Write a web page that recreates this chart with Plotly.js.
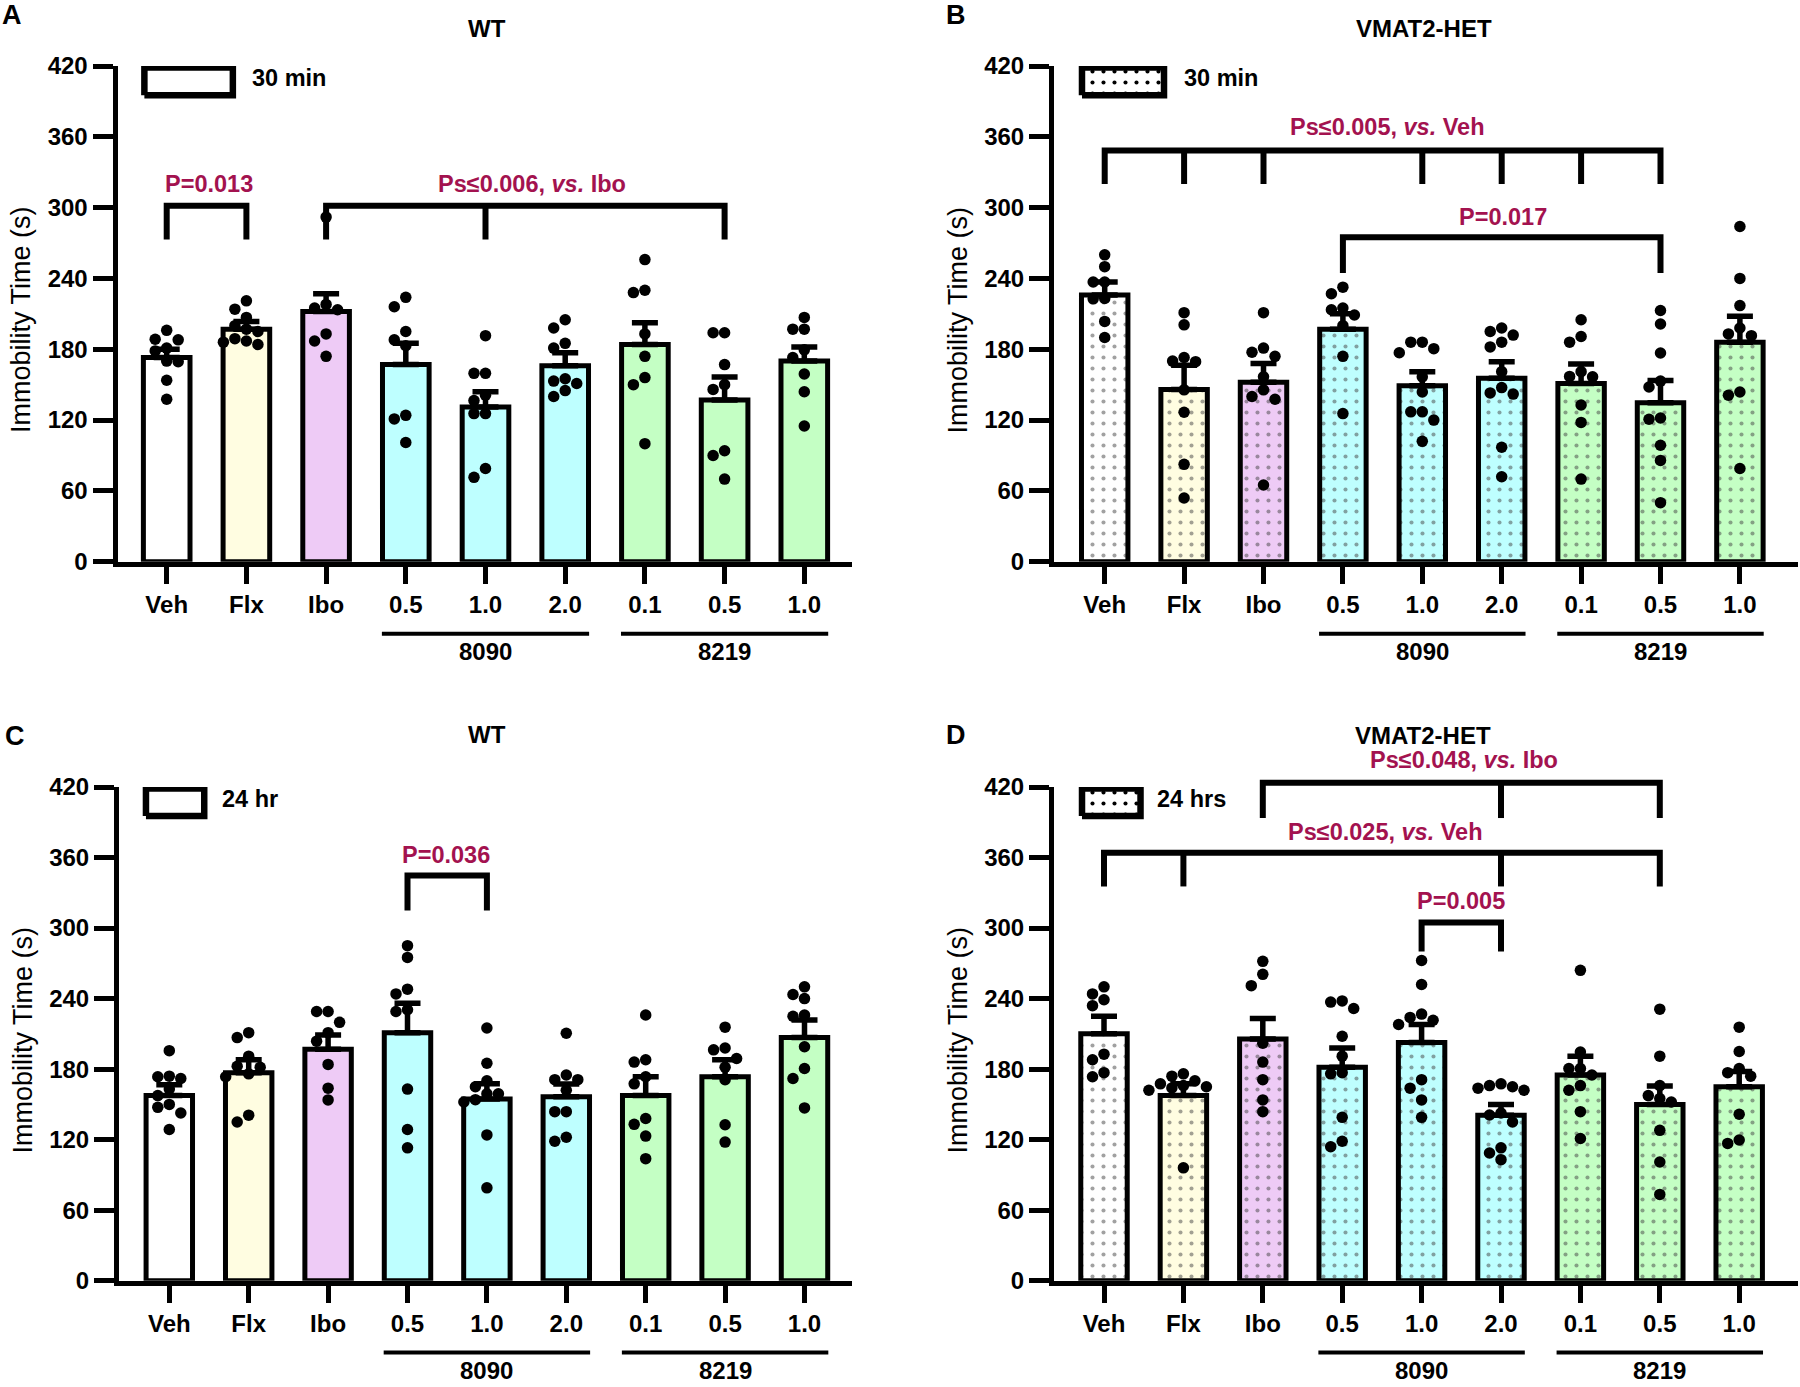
<!DOCTYPE html>
<html>
<head>
<meta charset="utf-8">
<script src="https://cdn.plot.ly/plotly-3.0.1.min.js"></script>
<style>html,body{margin:0;padding:0;background:#fff;}#chart{width:1800px;height:1387px;}</style>
</head>
<body>
<div id="chart"></div>
<script>
// ---------------- DATA ----------------
const categories = ['Veh','Flx','Ibo','0.5','1.0','2.0','0.1','0.5','1.0'];
const groupLabels = ['8090','8219'];
const yTicks = [0,60,120,180,240,300,360,420];

// Panel A: WT, 30 min
const meanA = [173, 197, 212, 167, 131, 166, 184, 137, 170];
const semA  = [7, 6.5, 15, 18, 13, 11, 18.5, 19.5, 12];
const dotsA = [
  [196, 188, 188.5, 181, 178.6, 170, 169.5, 153.7, 137.6],
  [221, 214, 207, 200, 197, 195, 189, 187, 186, 184],
  [292, 218, 215, 213.5, 193, 187, 174],
  [224, 216, 195, 188, 183, 124, 121, 101],
  [191.5, 159.6, 159.6, 141, 136.5, 125.5, 125.5, 79, 71.5],
  [205, 198, 185, 181, 155, 153, 151, 145, 140],
  [256, 230, 228, 193, 174, 156, 150, 100],
  [194, 194, 167, 150, 146, 94, 90, 70],
  [207, 197, 197, 179.5, 173, 159, 144, 115]
];

// Panel B: VMAT2-HET, 30 min
const meanB = [226, 146, 152, 197, 149, 155.5, 151, 134.6, 186];
const semB  = [11, 20.5, 16, 13, 12, 14, 16.6, 19, 22];
const dotsB = [
  [260, 250, 237, 237, 223, 222.7, 203.6, 190],
  [211, 200.7, 173, 170, 169.5, 145.6, 126.6, 82.5, 54],
  [211, 181, 177.5, 174, 156.6, 145.6, 140, 137.6, 65],
  [232.6, 227, 215, 213.5, 209, 200, 174, 125.5],
  [186, 186, 180.5, 177, 156.6, 143.8, 127, 127, 120, 102],
  [198, 195, 192, 186, 182, 161, 147.5, 143, 142, 97, 72],
  [205, 190.8, 186, 161, 157, 156.6, 132.8, 118, 70],
  [212.8, 201.4, 176.8, 153, 148, 121.8, 120.7, 98.7, 85.8, 50],
  [284, 240, 217, 198, 193, 191.5, 143.8, 141, 79]
];

// Panel C: WT, 24 hr
const meanC = [157.5, 177, 197, 211, 154.6, 156.4, 157.5, 173.5, 206.8];
const semC  = [9.3, 11, 12, 25, 13, 11, 16, 14.5, 15];
const dotsC = [
  [195.7, 174, 173.5, 172, 163, 157.5, 150, 147.5, 142.7, 128.6],
  [211, 206.8, 191, 182.4, 181.6, 176, 173.5, 140.8, 135],
  [229, 229, 219.8, 211, 203.8, 184, 163.8, 153.8],
  [285, 275, 248, 244, 230.5, 229, 163, 128.6, 113],
  [215, 185, 170, 165, 159, 159, 154, 152, 124, 79],
  [210.5, 175, 171, 171, 162, 143.8, 143.8, 122, 118.6],
  [226, 188, 186, 173.5, 167.5, 138, 133, 123, 103.8],
  [215.7, 198, 196.4, 189, 181.6, 171, 132.7, 117.9],
  [250, 243.5, 240, 226, 225, 199, 180.5, 172, 147]
];

// Panel D: VMAT2-HET, 24 hrs
const meanD = [210, 157.5, 205.7, 181.6, 202.7, 140.8, 175, 150, 165];
const semD  = [15, 10, 17.3, 16.4, 15.3, 9.2, 16, 15.7, 13];
const dotsD = [
  [250, 244, 239, 234, 192.7, 188, 177, 173.5],
  [176, 174, 170, 167.5, 166, 165, 164, 162, 96],
  [271.7, 260.6, 251, 202, 186, 171, 153.8, 143.8],
  [238, 237, 231.6, 208, 191, 177, 176, 139, 118.6, 114],
  [272.4, 252, 226.8, 224, 221.6, 218, 171, 163.8, 153.8, 139],
  [167.5, 166, 165, 163.8, 162, 142.7, 141, 135, 113, 108.6, 103],
  [264, 194.6, 180.5, 180.5, 175, 166, 162, 143.8, 121],
  [231, 191, 166, 157.5, 155, 152, 127.9, 101, 73.4],
  [215.7, 195, 180.5, 177, 174, 141.6, 119.7, 116.8]
];

// ---------------- STYLE / LAYOUT ----------------
const W = 1800, H = 1387;
const barColors = ['#FFFFFF','#FFFDE1','#EECBF6','#BEFFFF','#BEFFFF','#BEFFFF','#C4FFC4','#C4FFC4','#C4FFC4'];
const pColor = '#A3124F';
const FONT = 'Liberation Sans';
const tickFont = {family: FONT, size: 24, color: '#000', weight: 'bold'};
const textFont = {family: FONT, size: 23.5, color: '#000', weight: 'bold'};
const patt = {shape: '.', fgcolor: '#000', size: 11, solidity: 0.11};

const panels = [
  {ax:'', L:117.5, R:852, top:66, bot:561.7, cat0:166.7, step:79.7,
   mean:meanA, sem:semA, dots:dotsA, pattern:false,
   title:'WT', titlePx:[487,28.5], letter:'A', letterPx:[12,15], yTitlePx:[21,320],
   legend:'30 min', legBox:[-0.28,0.83], legTextX:1.045,
   brackets:[
     {x0:0,x1:1,legs:[],yh:301.5,yl:273,text:'P=0.013',tx:0.53,ty:320},
     {x0:2,x1:7,legs:[4],yh:301.5,yl:273,text:'Ps≤0.006, <i>vs.</i> Ibo',tx:4.58,ty:320}
   ]},
  {ax:'2', L:1054, R:1798, top:66, bot:561.7, cat0:1104.7, step:79.4,
   mean:meanB, sem:semB, dots:dotsB, pattern:true,
   title:'VMAT2-HET', titlePx:[1424,28.5], letter:'B', letterPx:[956,15], yTitlePx:[957.5,320],
   legend:'30 min', legBox:[-0.286,0.747], legTextX:0.97,
   brackets:[
     {x0:0,x1:7,legs:[1,2,4,5,6],yh:348.5,yl:320,text:'Ps≤0.005, <i>vs.</i> Veh',tx:3.56,ty:368},
     {x0:3,x1:7,legs:[],yh:274.8,yl:244.7,text:'P=0.017',tx:5.02,ty:292}
   ]},
  {ax:'3', L:119, R:852, top:787, bot:1280.7, cat0:169.3, step:79.4,
   mean:meanC, sem:semC, dots:dotsC, pattern:false,
   title:'WT', titlePx:[487,734], letter:'C', letterPx:[15,736], yTitlePx:[22.5,1040],
   legend:'24 hr', legBox:[-0.294,0.44], legTextX:0.64,
   brackets:[
     {x0:3,x1:4,legs:[],yh:344.7,yl:315,text:'P=0.036',tx:3.49,ty:362.5}
   ]},
  {ax:'4', L:1054, R:1798, top:787, bot:1280.7, cat0:1104, step:79.4,
   mean:meanD, sem:semD, dots:dotsD, pattern:true,
   title:'VMAT2-HET', titlePx:[1423,735], letter:'D', letterPx:[956,735], yTitlePx:[957.5,1040],
   legend:'24 hrs', legBox:[-0.277,0.46], legTextX:0.64,
   brackets:[
     {x0:2,x1:7,legs:[5],yh:423.6,yl:393.6,text:'Ps≤0.048, <i>vs.</i> Ibo',tx:4.53,ty:443},
     {x0:0,x1:7,legs:[1,5],yh:364,yl:335.4,text:'Ps≤0.025, <i>vs.</i> Veh',tx:3.55,ty:381.8},
     {x0:4,x1:5,legs:[],yh:304.7,yl:280,text:'P=0.005',tx:4.49,ty:323}
   ]}
];

// simple beeswarm: offsets computed from values so dots don't overlap
function swarm(vals, pxPerCat, pxPerUnit) {
  const D = 11.5;
  const order = vals.map((v,i)=>i).sort((a,b)=>vals[b]-vals[a]);
  const placed = [];
  const offs = new Array(vals.length).fill(0);
  const cands = [0,-1,1,-2,2,-3,3,-4,4];
  for (const i of order) {
    const y = vals[i]*pxPerUnit;
    for (const c of cands) {
      const dx = c*D;
      if (placed.every(p => Math.hypot(p.dx-dx, p.y-y) >= D)) {
        placed.push({dx, y}); offs[i] = dx/pxPerCat; break;
      }
    }
  }
  return offs;
}

const traces = [];
const layout = {
  width: W, height: H, margin: {l:0,r:0,t:0,b:0},
  paper_bgcolor: '#fff', plot_bgcolor: 'rgba(0,0,0,0)',
  showlegend: false, shapes: [], annotations: [], font: {family: FONT, color:'#000'}
};

panels.forEach(p => {
  const xa = 'x' + p.ax, ya = 'y' + p.ax;
  const xr = [(p.L - p.cat0)/p.step, (p.R - p.cat0)/p.step];
  const dy0 = 1 - p.bot/H, dy1 = 1 - p.top/H;
  const py = v => dy0 + v/420*(dy1-dy0);
  const pxPerUnit = (p.bot - p.top)/420;

  layout['xaxis' + p.ax] = {
    domain: [p.L/W, p.R/W], range: xr, anchor: ya,
    tickvals: categories.map((c,i)=>i), ticktext: categories,
    ticks: 'outside', ticklen: 17, tickwidth: 5, tickcolor: '#000',
    showline: true, linewidth: 5, linecolor: '#000',
    showgrid: false, zeroline: false, tickfont: tickFont, fixedrange: true
  };
  layout['yaxis' + p.ax] = {
    domain: [dy0, dy1], range: [0, 420], anchor: xa,
    tickvals: yTicks, ticks: 'outside', ticklen: 20, tickwidth: 5, tickcolor: '#000',
    showline: true, linewidth: 5, linecolor: '#000',
    showgrid: false, zeroline: false, tickfont: tickFont, fixedrange: true
  };

  // legend box
  const lb = {
    type: 'scatter', mode: 'lines', xaxis: xa, yaxis: ya, hoverinfo: 'skip',
    x: [p.legBox[0], p.legBox[1], p.legBox[1], p.legBox[0], p.legBox[0]],
    y: [395.3, 395.3, 418.7, 418.7, 395.3],
    fill: 'toself', fillcolor: '#FFFFFF', line: {color: '#000', width: 6.5}
  };
  if (p.pattern) lb.fillpattern = Object.assign({bgcolor: '#FFFFFF'}, patt);
  traces.push(lb);

  // bars
  const bar = {
    type: 'bar', xaxis: xa, yaxis: ya, hoverinfo: 'skip',
    x: categories.map((c,i)=>i), y: p.mean, width: 0.585,
    marker: {color: barColors, line: {color: '#000', width: 5}},
    error_y: {type: 'data', symmetric: false, array: p.sem, arrayminus: p.sem.map(()=>0),
              color: '#000', thickness: 5.5, width: 13}
  };
  if (p.pattern) bar.marker.pattern = Object.assign({bgcolor: barColors, fillmode: 'overlay'}, patt);
  traces.push(bar);

  // dots
  const dx = [], dy = [];
  p.dots.forEach((vals, ci) => {
    const offs = swarm(vals, p.step, pxPerUnit);
    vals.forEach((v, k) => { dx.push(ci + offs[k]); dy.push(v); });
  });
  traces.push({type: 'scatter', mode: 'markers', xaxis: xa, yaxis: ya, hoverinfo: 'skip',
    x: dx, y: dy, cliponaxis: false, marker: {color: '#000', size: 11.5}});

  // brackets
  p.brackets.forEach(b => {
    layout.shapes.push({type: 'path', xref: xa, yref: 'paper',
      path: `M${b.x0},${py(b.yl)} L${b.x0},${py(b.yh)} L${b.x1},${py(b.yh)} L${b.x1},${py(b.yl)}`,
      line: {color: '#000', width: 6}});
    b.legs.forEach(lx => layout.shapes.push({type: 'line', xref: xa, yref: 'paper',
      x0: lx, x1: lx, y0: py(b.yh + 1.5), y1: py(b.yl), line: {color: '#000', width: 6}}));
    layout.annotations.push({xref: xa, yref: 'paper', x: b.tx, y: py(b.ty), showarrow: false,
      xanchor: 'center', yanchor: 'middle', text: '<b>' + b.text + '</b>',
      font: {family: FONT, size: 23.5, color: pColor, weight: 'bold'}});
  });

  // group lines & labels below axis
  [[2.7, 5.3, 4, groupLabels[0]], [5.7, 8.3, 7, groupLabels[1]]].forEach(g => {
    layout.shapes.push({type: 'line', xref: xa, yref: 'paper', x0: g[0], x1: g[1],
      y0: py(-61), y1: py(-61), line: {color: '#000', width: 4}});
    layout.annotations.push({xref: xa, yref: 'paper', x: g[2], y: py(-76.5), showarrow: false,
      xanchor: 'center', yanchor: 'middle', text: '<b>' + g[3] + '</b>', font: tickFont});
  });

  // legend text
  layout.annotations.push({xref: xa, yref: 'paper', x: p.legTextX, y: py(409.5), showarrow: false,
    xanchor: 'left', yanchor: 'middle', text: '<b>' + p.legend + '</b>', font: textFont});

  // panel title, letter, y title
  layout.annotations.push({xref: 'paper', yref: 'paper', x: p.titlePx[0]/W, y: 1 - p.titlePx[1]/H,
    showarrow: false, xanchor: 'center', yanchor: 'middle', text: '<b>' + p.title + '</b>',
    font: {family: FONT, size: 24, color: '#000', weight: 'bold'}});
  layout.annotations.push({xref: 'paper', yref: 'paper', x: p.letterPx[0]/W, y: 1 - p.letterPx[1]/H,
    showarrow: false, xanchor: 'center', yanchor: 'middle', text: '<b>' + p.letter + '</b>',
    font: {family: FONT, size: 27, color: '#000', weight: 'bold'}});
  layout.annotations.push({xref: 'paper', yref: 'paper', x: p.yTitlePx[0]/W, y: 1 - p.yTitlePx[1]/H,
    showarrow: false, xanchor: 'center', yanchor: 'middle', textangle: -90,
    text: 'Immobility Time (s)', font: {family: FONT, size: 27, color: '#000'}});
});

Plotly.newPlot('chart', traces, layout, {staticPlot: true});
</script>
</body>
</html>
